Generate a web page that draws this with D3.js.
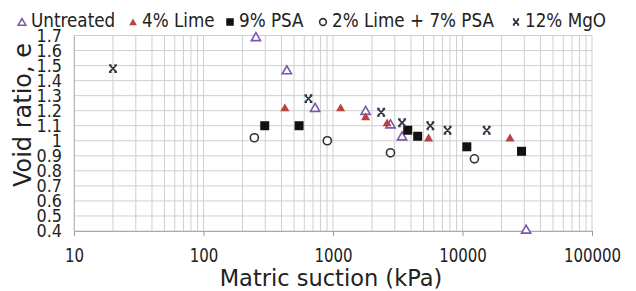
<!DOCTYPE html>
<html lang="en">
<head>
  <meta charset="UTF-8">
  <title>Void ratio vs matric suction</title>
  <script src="https://d3js.org/d3.v7.min.js"></script>
  <style>
    body { margin: 0; background: #fff; }
    svg text { font-family: "DejaVu Sans", Verdana, sans-serif; fill: #222; }
    .grid line { stroke: #cfcfcf; stroke-width: 1; }
  </style>
</head>
<body>
<svg width="636" height="291"></svg>

<script>
  // series: [suction kPa, void ratio]
  const untreated = [[254, 1.69], [440, 1.47], [728, 1.22], [1786, 1.20], [2779, 1.11], [3414, 1.03], [31000, 0.41]];
  const lime4 = [[425, 1.22], [1145, 1.22], [1786, 1.16], [2618, 1.12], [5470, 1.02], [23270, 1.02]];
  const psa9 = [[297, 1.10], [547, 1.10], [3776, 1.07], [4508, 1.03], [10800, 0.96], [28570, 0.93]];
  const limePsa = [[247, 1.02], [904, 1.00], [2779, 0.92], [12360, 0.88]];
  const mgo12 = [[20, 1.48], [646, 1.28], [2355, 1.19], [3414, 1.12], [5640, 1.10], [7670, 1.07], [15380, 1.07]];

  const seriesNames = ["Untreated", "4% Lime", "9% PSA", "2% Lime + 7% PSA", "12% MgO"];
  const xTickValues = [10, 100, 1000, 10000, 100000];
  const yTickValues = [0.4, 0.5, 0.6, 0.7, 0.8, 0.9, 1.0, 1.1, 1.2, 1.3, 1.4, 1.5, 1.6, 1.7];

  const svg = d3.select("svg");

  const x = d3.scaleLog().domain([10, 100000]).range([74, 592]);
  const y = d3.scaleLinear().domain([0.4, 1.7]).range([231, 35.5]);

  // gridlines
  const grid = svg.append("g").attr("class", "grid");
  grid.selectAll(".v").data(x.ticks()).enter().append("line")
      .attr("x1", d => x(d)).attr("x2", d => x(d))
      .attr("y1", y(1.7)).attr("y2", y(0.4));
  grid.selectAll(".h").data(yTickValues).enter().append("line")
      .attr("x1", x(10)).attr("x2", x(100000))
      .attr("y1", d => y(d)).attr("y2", d => y(d));

  // axes
  const xAxis = svg.append("g")
      .attr("transform", `translate(0,${y(0.4)})`)
      .call(d3.axisBottom(x).tickValues(xTickValues).tickFormat(d3.format("d")).tickSize(5).tickPadding(8));
  xAxis.select(".domain").attr("stroke", "#aaa");
  xAxis.selectAll(".tick line").attr("stroke", "#999");
  xAxis.selectAll(".tick text")
      .style("font-size", "15px")
      .attr("fill", "#222")
      .attr("transform", "scale(1,1.3)");

  const yAxis = svg.append("g")
      .attr("transform", `translate(${x(10)},0)`)
      .call(d3.axisLeft(y).tickValues(yTickValues).tickFormat(d => String(+d.toFixed(1))).tickSize(0).tickPadding(12));
  yAxis.select(".domain").attr("stroke", "#bbb");
  yAxis.selectAll(".tick text")
      .style("font-size", "16px")
      .attr("fill", "#222")
      .attr("transform", "scale(1,1.08)");

  // axis titles
  svg.append("text")
      .attr("x", 331).attr("y", 286)
      .attr("text-anchor", "middle")
      .style("font-size", "22.5px")
      .text("Matric suction (kPa)");

  svg.append("text")
      .attr("transform", "translate(31,115) rotate(-90)")
      .attr("text-anchor", "middle")
      .style("font-size", "24px")
      .text("Void ratio, e");

  // marker drawers
  const purple = "#7b57ad", red = "#b8433f", dark = "#2f3545";
  const tri = d3.symbol().type(d3.symbolTriangle);

  function drawMarker(g, type, cx, cy, s) {
    if (type === 0) {
      g.append("path").attr("d", tri.size(s * s * 0.45)())
        .attr("transform", `translate(${cx},${cy + 1})`)
        .attr("fill", "#fff").attr("stroke", purple).attr("stroke-width", 1.6);
    } else if (type === 1) {
      g.append("path").attr("d", tri.size(s * s * 0.45)())
        .attr("transform", `translate(${cx},${cy + 1})`)
        .attr("fill", red);
    } else if (type === 2) {
      g.append("rect").attr("x", cx - s / 2).attr("y", cy - s / 2)
        .attr("width", s).attr("height", s).attr("fill", "#111");
    } else if (type === 3) {
      g.append("circle").attr("cx", cx).attr("cy", cy).attr("r", s * 0.45)
        .attr("fill", "#fff").attr("stroke", "#333").attr("stroke-width", 1.6);
    } else {
      const h = s * 0.4;
      g.append("path")
        .attr("d", `M${cx - h},${cy - h}L${cx + h},${cy + h}M${cx + h},${cy - h}L${cx - h},${cy + h}` +
                   `M${cx - h * 1.1},${cy - h}H${cx - h * 0.4}M${cx + h * 0.4},${cy - h}H${cx + h * 1.1}` +
                   `M${cx - h * 1.1},${cy + h}H${cx - h * 0.4}M${cx + h * 0.4},${cy + h}H${cx + h * 1.1}`)
        .attr("stroke", dark).attr("stroke-width", 1.7).attr("fill", "none");
    }
  }

  // points
  const allSeries = [untreated, lime4, psa9, limePsa, mgo12];
  const pts = svg.append("g");
  allSeries.forEach((data, i) => {
    data.forEach(d => drawMarker(pts, i, x(d[0]), y(d[1]), 9));
  });

  // legend
  const legendX = [22, 133, 230, 323, 516];
  const legend = svg.append("g");
  seriesNames.forEach((name, i) => {
    drawMarker(legend, i, legendX[i], 22, i === 4 ? 7 : 7.5);
    legend.append("text")
        .attr("transform", `translate(${legendX[i] + 9},27) scale(1,1.18)`)
        .style("font-size", "16.8px")
        .text(name);
  });
</script>
</body>
</html>
